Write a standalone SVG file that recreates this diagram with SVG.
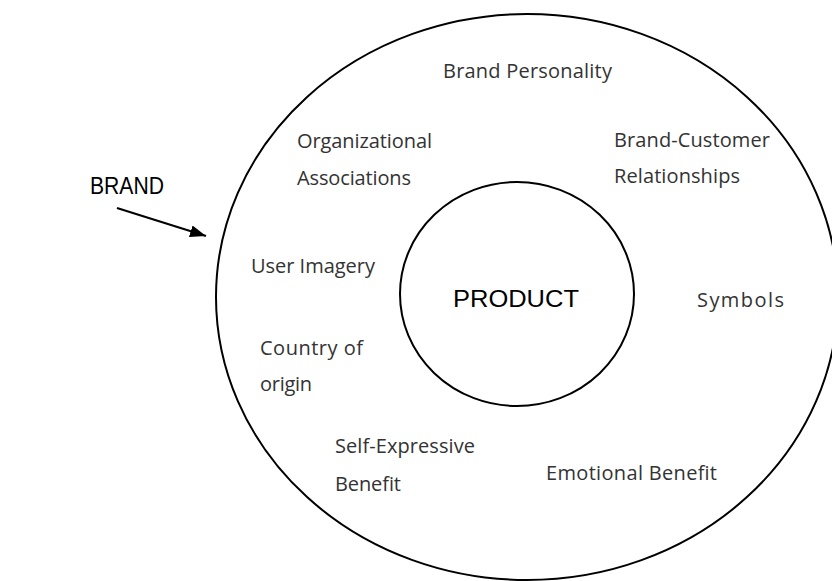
<svg xmlns="http://www.w3.org/2000/svg" width="832" height="581" viewBox="0 0 832 581">
  <defs>
    <marker id="arrowhead" markerWidth="16" markerHeight="12" refX="16" refY="6" orient="auto" markerUnits="userSpaceOnUse" viewBox="0 0 16 12">
      <path d="M0,0 L16,6 L0,12 z" fill="#000"/>
    </marker>
    <style>
      .ring { fill: none; stroke: #000; stroke-width: 2; }
      .lbl { font-family: "Open Sans", "Noto Sans", "DejaVu Sans", sans-serif; font-size: 20px; fill: #333; }
      .big { font-family: "Liberation Sans", Arial, sans-serif; font-size: 23px; fill: #000; }
      .conn { stroke: #000; stroke-width: 2; fill: none; }
    </style>
  </defs>
  <rect width="832" height="581" fill="#fff"/>

  <g id="brand-ring">
    <ellipse class="ring" cx="527" cy="297" rx="311" ry="283"/>
  </g>

  <g id="product">
    <ellipse class="ring" cx="517" cy="294" rx="117" ry="112"/>
    <text class="big" x="516" y="307" text-anchor="middle" font-size="25" textLength="126" lengthAdjust="spacingAndGlyphs">PRODUCT</text>
  </g>

  <g id="brand-label">
    <text class="big" x="90" y="194" textLength="74" lengthAdjust="spacingAndGlyphs">BRAND</text>
  </g>

  <g id="brand-personality"><text class="lbl" x="443" y="78" textLength="169">Brand Personality</text></g>
  <g id="organizational-associations">
    <text class="lbl" x="297" y="148" textLength="135">Organizational</text>
    <text class="lbl" x="297" y="185" textLength="114">Associations</text>
  </g>
  <g id="brand-customer-relationships">
    <text class="lbl" x="614" y="147" textLength="156">Brand-Customer</text>
    <text class="lbl" x="614" y="183" textLength="126">Relationships</text>
  </g>
  <g id="user-imagery"><text class="lbl" x="251" y="273" textLength="124">User Imagery</text></g>
  <g id="symbols"><text class="lbl" x="697" y="307" textLength="87">Symbols</text></g>
  <g id="country-of-origin">
    <text class="lbl" x="260" y="355" textLength="103">Country of</text>
    <text class="lbl" x="260" y="391" textLength="52">origin</text>
  </g>
  <g id="self-expressive-benefit">
    <text class="lbl" x="335" y="453" textLength="140">Self-Expressive</text>
    <text class="lbl" x="335" y="491" textLength="66">Benefit</text>
  </g>
  <g id="emotional-benefit"><text class="lbl" x="546" y="480" textLength="171">Emotional Benefit</text></g>

  <g id="connectors">
    <line class="conn" x1="117" y1="208" x2="206" y2="236" marker-end="url(#arrowhead)"/>
  </g>
</svg>
